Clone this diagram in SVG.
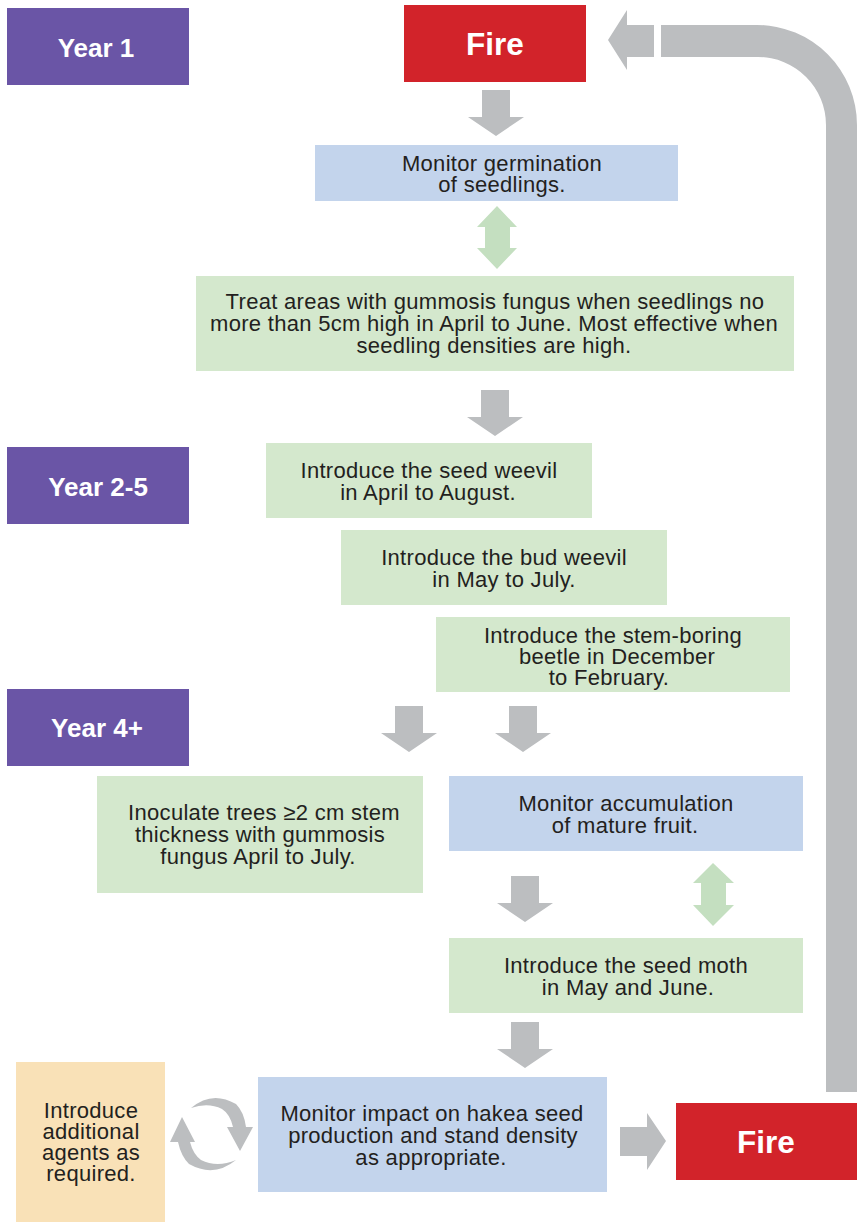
<svg xmlns="http://www.w3.org/2000/svg" width="858" height="1224" viewBox="0 0 858 1224">
<style>
.year{fill:#6a55a6}
.fire{fill:#d2232a}
.blue{fill:#c3d4ec}
.green{fill:#d4e8cd}
.orange{fill:#f9e1b7}
.ga{fill:#bcbec0}
.gr{fill:#c4dfc0}
.t{font-family:"Liberation Sans",Arial,sans-serif;font-size:22px;letter-spacing:0.3px;fill:#231f20;text-anchor:middle}
.yt{font-family:"Liberation Sans",Arial,sans-serif;font-size:26px;font-weight:bold;fill:#fff;text-anchor:middle}
.ft{font-family:"Liberation Sans",Arial,sans-serif;font-size:31.5px;font-weight:bold;fill:#fff;text-anchor:middle}
</style>
<defs>
<polygon id="down" points="-14,0 14,0 14,27 28,27 0,46 -28,27 -14,27"/>
</defs>
<g id="connectors">
<path class="ga" d="M826,1092 V125 A68,68 0 0 0 758,57 H661 V25 H757 A100,100 0 0 1 857,125 V1092 Z"/>
<polygon class="ga" points="654,25 654,57 627,57 627,70 608,40 627,10 627,25"/>
<use href="#down" class="ga" x="496" y="90"/>
<use href="#down" class="ga" x="495" y="390"/>
<use href="#down" class="ga" x="409" y="706"/>
<use href="#down" class="ga" x="523" y="706"/>
<use href="#down" class="ga" x="525" y="876"/>
<use href="#down" class="ga" x="525" y="1022"/>
<polygon class="ga" points="620,1127 647,1127 647,1113 666,1141 647,1170 647,1156 620,1156"/>
<polygon class="gr" points="497,206 517,227 510,227 510,248 517,248 497,269 477,248 485,248 485,227 477,227"/>
<polygon class="gr" points="713,863 734,883 726,883 726,905 734,905 713,926 693,905 701,905 701,883 693,883"/>
<path class="ga" d="M191,1108 Q212,1090 236,1104 Q244,1112 246,1127 L253,1127 L240,1151 L227,1127 L233,1127 Q230,1114 222,1109 Q208,1102 191,1108 Z"/>
<path class="ga" d="M236,1160 Q214,1178 189,1164 Q181,1156 178,1142 L170,1142 L182,1117 L195,1142 L190,1142 Q193,1154 201,1160 Q217,1168 236,1160 Z"/>
</g>
<g id="year1"><rect class="year" x="7" y="8" width="182" height="77"/><text class="yt" x="96" y="57">Year 1</text></g>
<g id="fire-top"><rect class="fire" x="404" y="5" width="182" height="77"/><text class="ft" x="495" y="55">Fire</text></g>
<g id="monitor-germination"><rect class="blue" x="315" y="145" width="363" height="56"/>
<text class="t" x="502" y="171">Monitor germination</text><text class="t" x="502" y="192">of seedlings.</text></g>
<g id="treat-areas"><rect class="green" x="196" y="276" width="598" height="95"/>
<text class="t" x="495" y="309">Treat areas with gummosis fungus when seedlings no</text>
<text class="t" x="494" y="331">more than 5cm high in April to June. Most effective when</text>
<text class="t" x="494" y="353">seedling densities are high.</text></g>
<g id="year2-5"><rect class="year" x="7" y="447" width="182" height="77"/><text class="yt" x="98" y="496">Year 2-5</text></g>
<g id="seed-weevil"><rect class="green" x="266" y="443" width="326" height="75"/>
<text class="t" x="429" y="478">Introduce the seed weevil</text><text class="t" x="428" y="500">in April to August.</text></g>
<g id="bud-weevil"><rect class="green" x="341" y="530" width="326" height="75"/>
<text class="t" x="504" y="565">Introduce the bud weevil</text><text class="t" x="504" y="587">in May to July.</text></g>
<g id="stem-boring"><rect class="green" x="436" y="617" width="354" height="75"/>
<text class="t" x="613" y="643">Introduce the stem-boring</text><text class="t" x="617" y="664">beetle in December</text><text class="t" x="609" y="685">to February.</text></g>
<g id="year4"><rect class="year" x="7" y="689" width="182" height="77"/><text class="yt" x="97" y="737">Year 4+</text></g>
<g id="inoculate"><rect class="green" x="97" y="776" width="326" height="117"/>
<text class="t" x="264" y="820">Inoculate trees ≥2 cm stem</text><text class="t" x="260" y="842">thickness with gummosis</text><text class="t" x="258" y="864">fungus April to July.</text></g>
<g id="monitor-fruit"><rect class="blue" x="449" y="776" width="354" height="75"/>
<text class="t" x="626" y="811">Monitor accumulation</text><text class="t" x="625" y="833">of mature fruit.</text></g>
<g id="seed-moth"><rect class="green" x="449" y="938" width="354" height="75"/>
<text class="t" x="626" y="973">Introduce the seed moth</text><text class="t" x="628" y="995">in May and June.</text></g>
<g id="additional"><rect class="orange" x="16" y="1062" width="149" height="160"/>
<text class="t" x="91" y="1118">Introduce</text><text class="t" x="91" y="1139">additional</text><text class="t" x="91" y="1160">agents as</text><text class="t" x="91" y="1181">required.</text></g>
<g id="monitor-impact"><rect class="blue" x="258" y="1077" width="349" height="115"/>
<text class="t" x="432" y="1121">Monitor impact on hakea seed</text><text class="t" x="433" y="1143">production and stand density</text><text class="t" x="431" y="1165">as appropriate.</text></g>
<g id="fire-bottom"><rect class="fire" x="676" y="1103" width="181" height="77"/><text class="ft" x="766" y="1153">Fire</text></g>
</svg>
